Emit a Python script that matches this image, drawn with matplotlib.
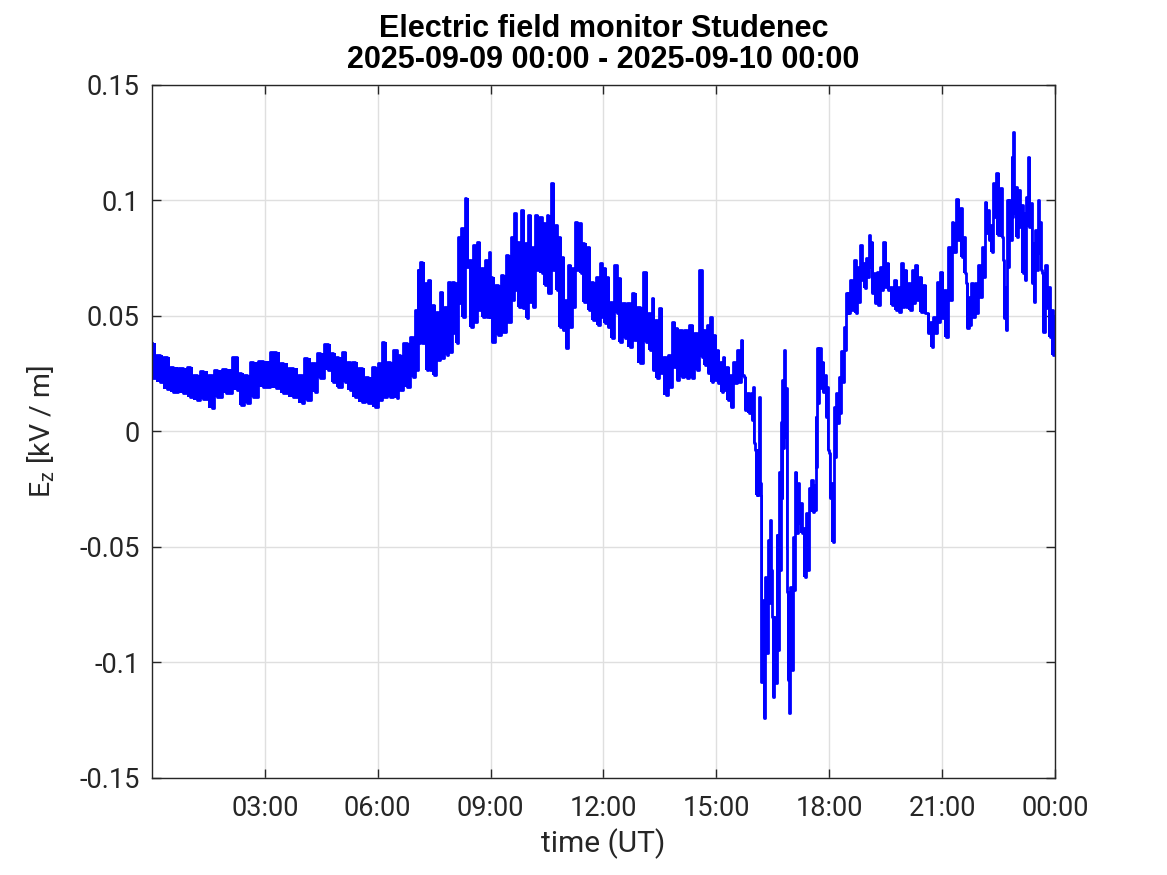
import matplotlib
matplotlib.use("Agg")
import matplotlib.pyplot as plt
import numpy as np

# time in hours since 2025-09-09 00:00 UT, upper and lower edge of the noisy trace (kV/m)
t_hours = [0.00, 0.21, 0.39, 0.57, 0.83, 1.01, 1.19, 1.36, 1.60, 1.72, 1.98, 2.25, 2.38, 2.52, 2.69, 2.96,
           3.30, 3.49, 3.76, 3.98, 4.11, 4.33, 4.47, 4.69, 4.82, 4.95, 5.13, 5.26, 5.40, 5.57, 5.75, 5.93,
           6.06, 6.17, 6.33, 6.50, 6.59, 6.77, 6.95, 7.04, 7.08, 7.19, 7.30, 7.39, 7.49, 7.61, 7.72, 7.83,
           7.92, 8.03, 8.10, 8.17, 8.27, 8.36, 8.48, 8.58, 8.69, 8.81, 8.91, 8.98, 9.05, 9.20, 9.34, 9.47,
           9.60, 9.67, 9.76, 9.87, 9.96, 10.05, 10.13, 10.24, 10.36, 10.45, 10.53, 10.67, 10.76, 10.84, 10.93, 11.00,
           11.11, 11.20, 11.29, 11.39, 11.48, 11.62, 11.73, 11.86, 11.95, 12.04, 12.13, 12.22, 12.35, 12.44, 12.57, 12.70,
           12.82, 12.97, 13.13, 13.24, 13.32, 13.43, 13.52, 13.66, 13.77, 13.87, 13.96, 14.08, 14.21, 14.34, 14.48, 14.61,
           14.70, 14.79, 14.88, 14.96, 15.05, 15.14, 15.20, 15.32, 15.38, 15.50, 15.61, 15.69, 15.76, 15.88, 15.94, 16.01,
           16.07, 16.11, 16.16, 16.20, 16.27, 16.33, 16.39, 16.45, 16.51, 16.58, 16.62, 16.69, 16.74, 16.77, 16.83, 16.87,
           16.91, 16.94, 17.00, 17.07, 17.13, 17.20, 17.27, 17.36, 17.42, 17.49, 17.56, 17.62, 17.66, 17.71, 17.77, 17.84,
           17.92, 17.98, 18.02, 18.09, 18.15, 18.21, 18.29, 18.36, 18.42, 18.48, 18.51, 18.60, 18.71, 18.77, 18.86, 18.95,
           19.01, 19.08, 19.15, 19.22, 19.30, 19.39, 19.48, 19.57, 19.66, 19.77, 19.86, 19.95, 20.04, 20.15, 20.23, 20.32,
           20.43, 20.55, 20.63, 20.72, 20.81, 20.90, 21.00, 21.10, 21.21, 21.30, 21.43, 21.52, 21.61, 21.67, 21.74, 21.82,
           21.91, 22.01, 22.09, 22.17, 22.25, 22.32, 22.38, 22.49, 22.58, 22.64, 22.69, 22.76, 22.82, 22.87, 22.92, 22.98,
           23.07, 23.14, 23.20, 23.26, 23.32, 23.38, 23.44, 23.51, 23.57, 23.64, 23.69, 23.78, 23.86, 23.95, 24.00]

ez_high = [0.0382, 0.0331, 0.0321, 0.0281, 0.0273, 0.0281, 0.0245, 0.0263, 0.0245, 0.0266, 0.0271, 0.0321, 0.0252, 0.0245, 0.0302, 0.0305,
           0.0343, 0.0295, 0.0273, 0.0245, 0.0317, 0.0295, 0.0338, 0.0379, 0.0338, 0.0324, 0.0346, 0.0302, 0.0302, 0.0273, 0.0237, 0.0281,
           0.0295, 0.0389, 0.0302, 0.0353, 0.0331, 0.0382, 0.0411, 0.0526, 0.0699, 0.0735, 0.0641, 0.0656, 0.0548, 0.0519, 0.0605, 0.0540,
           0.0649, 0.0649, 0.0641, 0.0843, 0.0880, 0.1010, 0.0742, 0.0807, 0.0822, 0.0706, 0.0742, 0.0778, 0.0670, 0.0634, 0.0677, 0.0764,
           0.0843, 0.0944, 0.0822, 0.0959, 0.0815, 0.0937, 0.0800, 0.0937, 0.0930, 0.0901, 0.0937, 0.1074, 0.0894, 0.0843, 0.0757, 0.0569,
           0.0721, 0.0706, 0.0908, 0.0901, 0.0815, 0.0800, 0.0649, 0.0670, 0.0728, 0.0706, 0.0670, 0.0562, 0.0721, 0.0663, 0.0555, 0.0555,
           0.0598, 0.0540, 0.0692, 0.0512, 0.0577, 0.0483, 0.0533, 0.0324, 0.0331, 0.0475, 0.0447, 0.0439, 0.0439, 0.0461, 0.0425, 0.0699,
           0.0439, 0.0461, 0.0497, 0.0418, 0.0353, 0.0302, 0.0324, 0.0281, 0.0245, 0.0302, 0.0353, 0.0396, 0.0237, 0.0165, 0.0165, 0.0194,
           -0.0080, -0.0080, 0.0151, -0.0275, -0.0729, -0.0628, -0.0470, -0.0383, -0.0802, -0.0802, -0.0448, -0.0174, 0.0042, 0.0223, 0.0353, 0.0187,
           -0.0693, -0.0859, -0.0672, -0.0455, -0.0174, -0.0224, -0.0311, -0.0419, -0.0354, -0.0246, -0.0210, -0.0231, 0.0064, 0.0360, 0.0360, 0.0302,
           0.0245, 0.0194, -0.0095, -0.0224, 0.0107, 0.0165, 0.0237, 0.0350, 0.0454, 0.0598, 0.0598, 0.0656, 0.0742, 0.0713, 0.0807, 0.0728,
           0.0750, 0.0851, 0.0822, 0.0685, 0.0692, 0.0713, 0.0822, 0.0728, 0.0627, 0.0656, 0.0627, 0.0728, 0.0699, 0.0641, 0.0699, 0.0721,
           0.0670, 0.0634, 0.0512, 0.0475, 0.0497, 0.0649, 0.0692, 0.0613, 0.0800, 0.0908, 0.1005, 0.0966, 0.0843, 0.0641, 0.0584, 0.0641,
           0.0641, 0.0721, 0.0800, 0.0995, 0.0959, 0.0894, 0.1074, 0.1118, 0.1053, 0.0742, 0.0627, 0.1002, 0.1002, 0.1190, 0.1298, 0.1060,
           0.1045, 0.0981, 0.0944, 0.1017, 0.1190, 0.0988, 0.0815, 0.0872, 0.1002, 0.0908, 0.0685, 0.0721, 0.0627, 0.0526, 0.0500]

ez_low = [0.0230, 0.0216, 0.0183, 0.0172, 0.0165, 0.0151, 0.0136, 0.0139, 0.0100, 0.0151, 0.0165, 0.0180, 0.0115, 0.0122, 0.0151, 0.0194,
          0.0187, 0.0165, 0.0151, 0.0122, 0.0136, 0.0172, 0.0230, 0.0266, 0.0216, 0.0194, 0.0216, 0.0180, 0.0151, 0.0129, 0.0122, 0.0107,
          0.0136, 0.0151, 0.0151, 0.0144, 0.0180, 0.0194, 0.0237, 0.0266, 0.0382, 0.0382, 0.0266, 0.0266, 0.0245, 0.0310, 0.0317, 0.0331,
          0.0346, 0.0425, 0.0382, 0.0555, 0.0497, 0.0713, 0.0454, 0.0475, 0.0526, 0.0497, 0.0497, 0.0497, 0.0389, 0.0418, 0.0432, 0.0475,
          0.0569, 0.0613, 0.0540, 0.0533, 0.0490, 0.0562, 0.0540, 0.0699, 0.0685, 0.0634, 0.0598, 0.0699, 0.0613, 0.0454, 0.0439, 0.0360,
          0.0454, 0.0540, 0.0699, 0.0685, 0.0562, 0.0526, 0.0483, 0.0461, 0.0497, 0.0468, 0.0454, 0.0403, 0.0512, 0.0389, 0.0403, 0.0367,
          0.0396, 0.0295, 0.0389, 0.0353, 0.0266, 0.0230, 0.0252, 0.0158, 0.0194, 0.0281, 0.0223, 0.0237, 0.0230, 0.0230, 0.0266, 0.0324,
          0.0288, 0.0252, 0.0216, 0.0223, 0.0209, 0.0172, 0.0180, 0.0136, 0.0107, 0.0209, 0.0216, 0.0245, 0.0093, 0.0079, 0.0050, -0.0051,
          -0.0275, -0.0275, -0.0224, -0.1083, -0.1242, -0.0960, -0.0744, -0.0600, -0.1148, -0.1090, -0.0946, -0.0600, -0.0289, -0.0073, -0.0022, -0.0513,
          -0.1076, -0.1220, -0.1032, -0.0686, -0.0441, -0.0397, -0.0441, -0.0628, -0.0600, -0.0340, -0.0347, -0.0340, -0.0152, 0.0122, 0.0187, 0.0172,
          0.0064, -0.0080, -0.0289, -0.0477, -0.0109, 0.0035, 0.0079, 0.0215, 0.0353, 0.0512, 0.0512, 0.0526, 0.0512, 0.0562, 0.0656, 0.0620,
          0.0670, 0.0713, 0.0598, 0.0555, 0.0548, 0.0613, 0.0627, 0.0613, 0.0548, 0.0526, 0.0519, 0.0540, 0.0540, 0.0526, 0.0555, 0.0569,
          0.0519, 0.0512, 0.0425, 0.0367, 0.0425, 0.0475, 0.0490, 0.0411, 0.0569, 0.0778, 0.0829, 0.0757, 0.0685, 0.0447, 0.0461, 0.0497,
          0.0512, 0.0584, 0.0670, 0.0858, 0.0829, 0.0778, 0.0930, 0.0851, 0.0843, 0.0490, 0.0439, 0.0713, 0.0829, 0.0930, 0.0944, 0.0843,
          0.0887, 0.0685, 0.0656, 0.0894, 0.0887, 0.0641, 0.0562, 0.0699, 0.0771, 0.0699, 0.0432, 0.0533, 0.0411, 0.0331, 0.0340]

x_ticks = [3, 6, 9, 12, 15, 18, 21, 24]
x_ticklabels = ["03:00", "06:00", "09:00", "12:00", "15:00", "18:00", "21:00", "00:00"]
y_ticks = [-0.15, -0.10, -0.05, 0.0, 0.05, 0.10, 0.15]
y_ticklabels = ["-0.15", "-0.1", "-0.05", "0", "0.05", "0.1", "0.15"]

plt.rcParams['font.family'] = ['Roboto', 'DejaVu Sans']
plt.rcParams['mathtext.default'] = 'regular'

axc = '#262626'
fig = plt.figure(figsize=(11.67, 8.75), dpi=100)
ax = fig.add_axes([0.1302, 0.1109, 0.7738, 0.792])

t = np.asarray(t_hours)
hi = np.asarray(ez_high)
lo = np.asarray(ez_low)
xs = np.repeat(t, 2)
ys = np.empty(2 * len(t))
ys[0::2] = hi
ys[1::2] = lo
ax.fill_between(t, lo, hi, color=(0, 0, 1), linewidth=0, step='mid')
ax.plot(xs, ys, color=(0, 0, 1), linewidth=2.0, drawstyle='steps-mid')

ax.set_xlim(0, 24)
ax.set_ylim(-0.15, 0.15)
ax.set_xticks(x_ticks)
ax.set_xticklabels(x_ticklabels)
ax.set_yticks(y_ticks)
ax.set_yticklabels(y_ticklabels)
ax.grid(True, color='#dfdfdf', linewidth=1.0)
ax.set_axisbelow(True)
for s in ax.spines.values():
    s.set_color(axc)
    s.set_linewidth(1.0)
ax.tick_params(direction='in', length=6.5, width=1.0, colors=axc, labelsize=19.5,
               top=True, right=True)
ax.tick_params(axis='x', pad=12)
ax.tick_params(axis='y', pad=9)

ax.set_xlabel('time (UT)', fontsize=21.5, color=axc, labelpad=5)
ax.set_ylabel('E$_z$ [kV / m]', fontsize=20.5, color=axc, labelpad=16)
ax.set_title('Electric field monitor Studenec\n2025-09-09 00:00 - 2025-09-10 00:00',
             fontsize=22, fontweight='bold', family=['Liberation Sans', 'DejaVu Sans'],
             color='black', pad=12, linespacing=1.05)

fig.savefig('out.png', dpi=100, facecolor='white')
